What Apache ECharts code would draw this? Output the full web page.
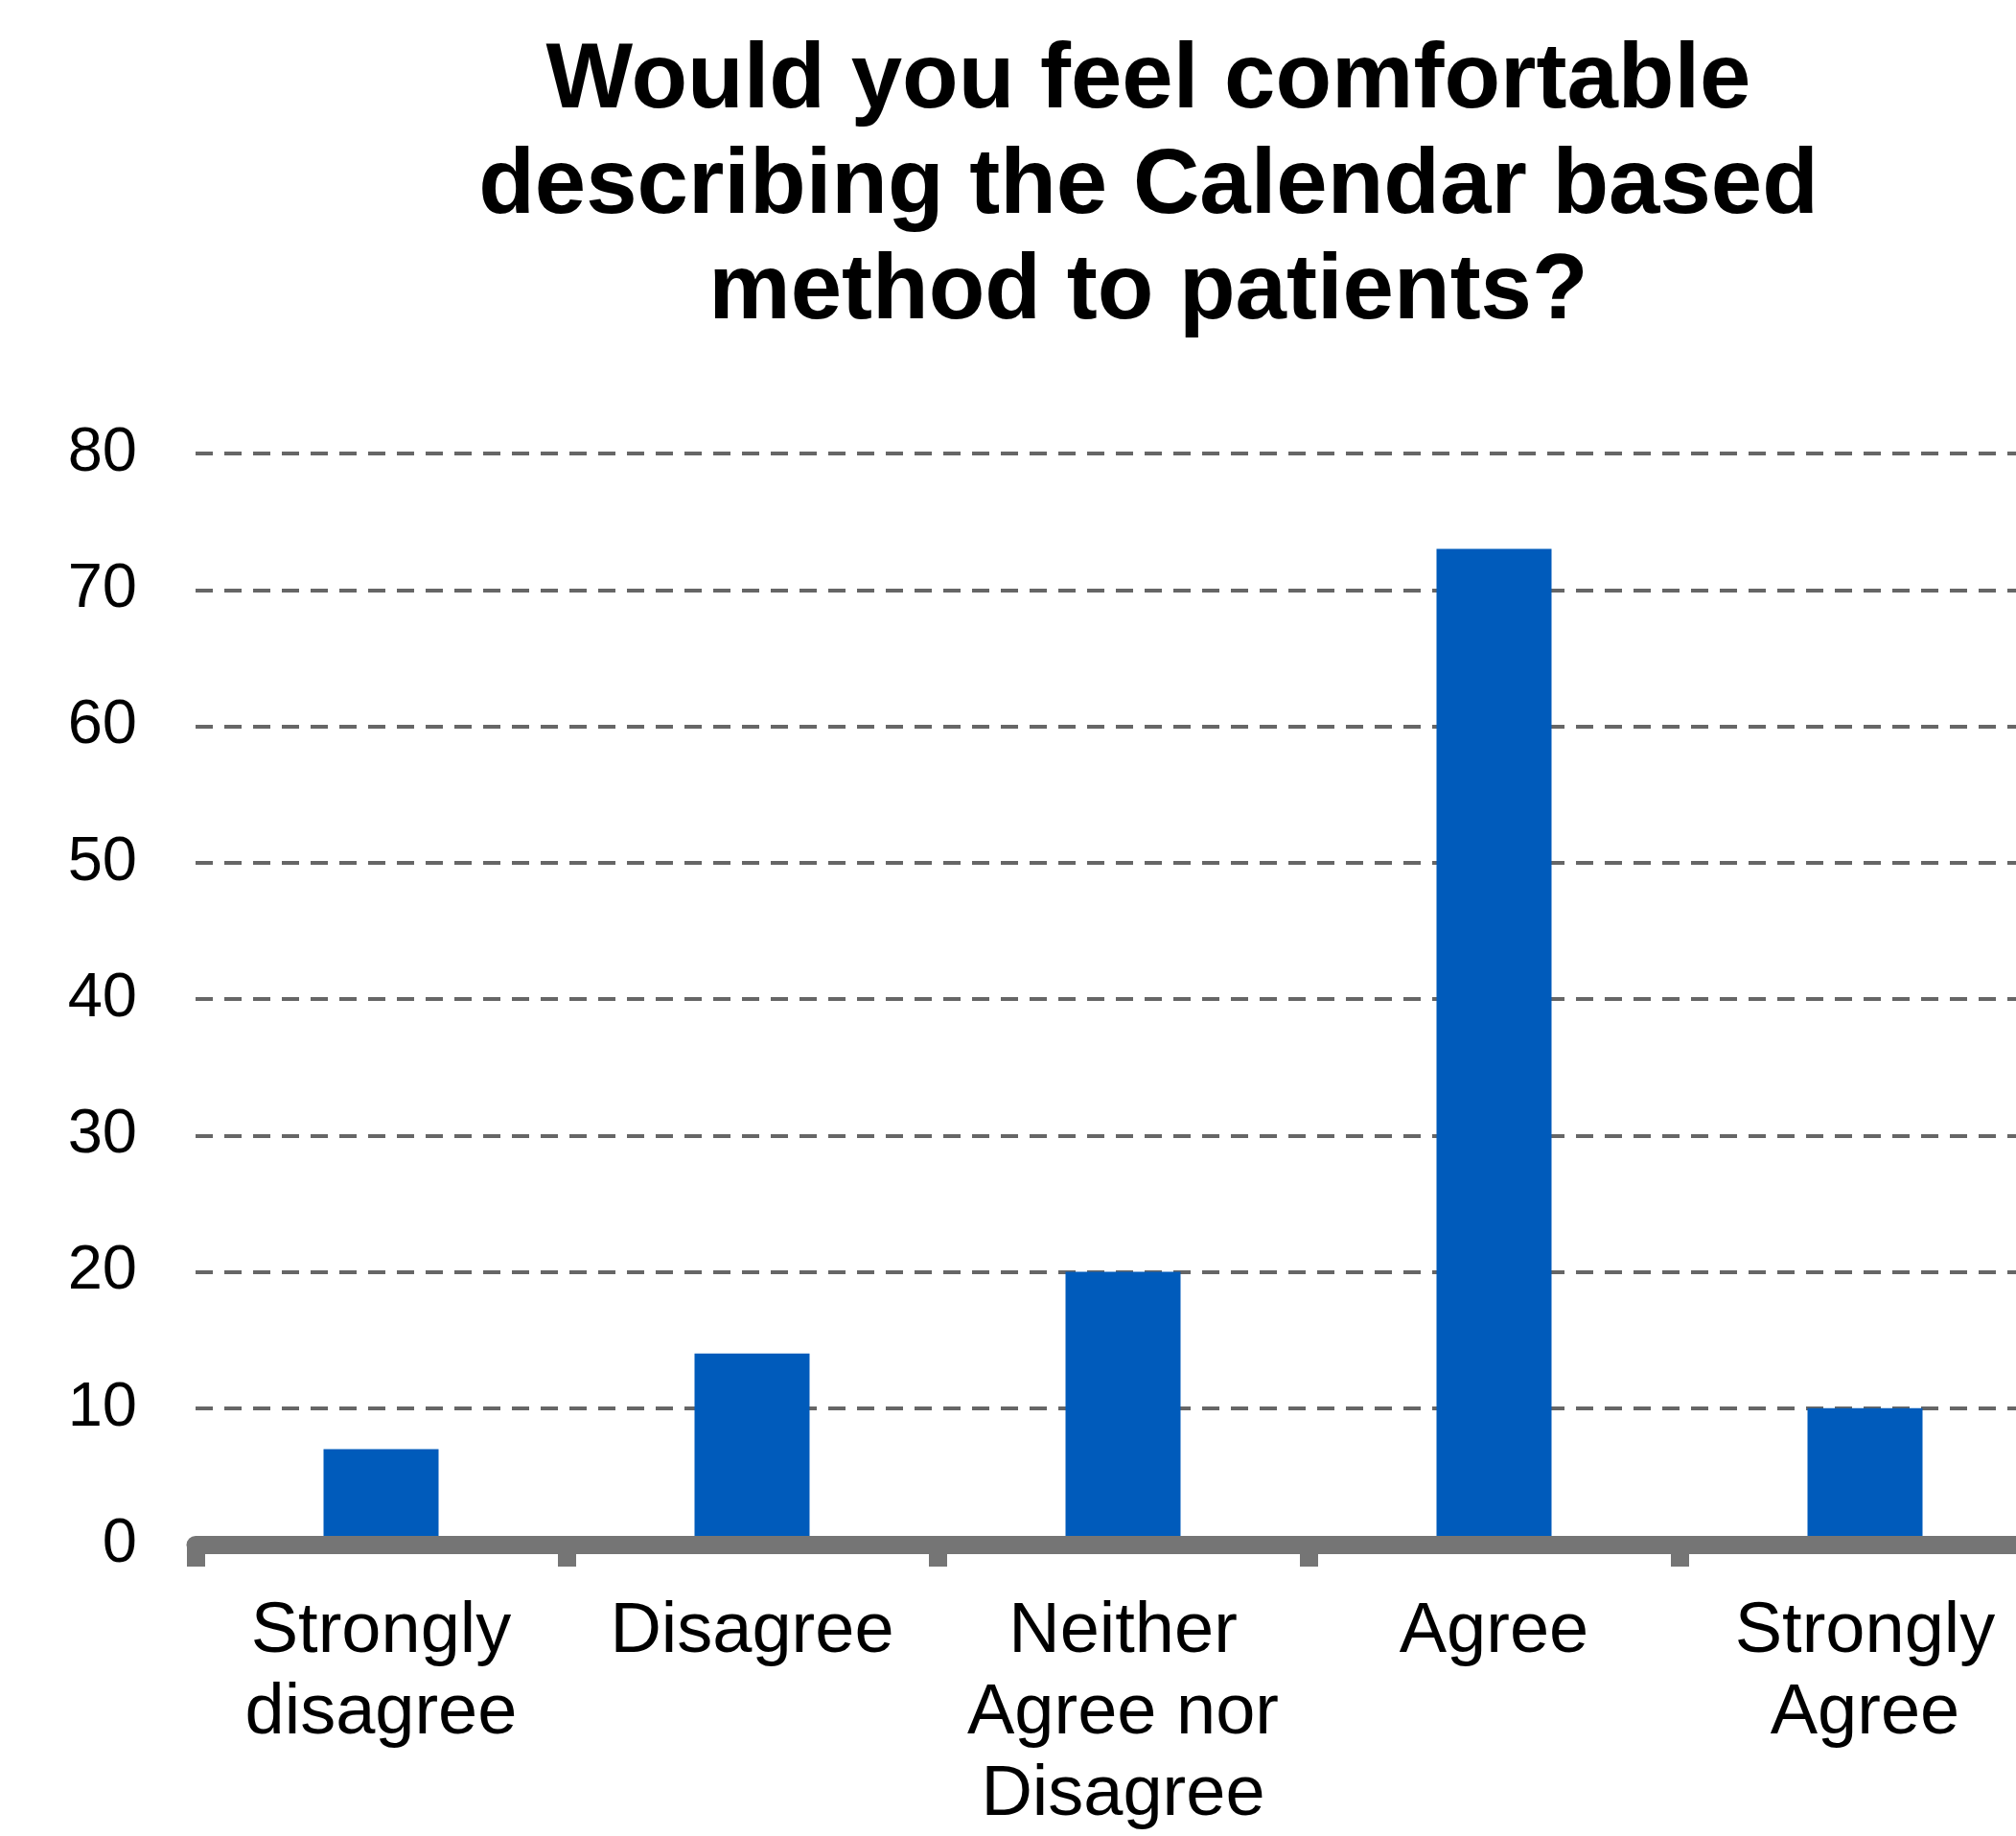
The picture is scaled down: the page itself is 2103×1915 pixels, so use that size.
<!DOCTYPE html>
<html>
<head>
<meta charset="utf-8">
<script src="https://cdn.jsdelivr.net/npm/echarts@6/dist/echarts.min.js"></script>
<style>
  html, body { margin: 0; padding: 0; background: #fff; }
  #chart { width: 2103px; height: 1915px; }
</style>
</head>
<body>
<div id="chart"></div>
<script>
// survey answers
const categories = ['Strongly\ndisagree', 'Disagree', 'Neither\nAgree nor\nDisagree', 'Agree', 'Strongly\nAgree'];
const counts = [7, 14, 20, 73, 10];
const yMin = 0, yMax = 80, yStep = 10;

const chart = echarts.init(document.getElementById('chart'));
const font = 'Liberation Sans, Arial, Helvetica, sans-serif';

chart.setOption({
  animation: false,
  backgroundColor: '#ffffff',
  title: {
    text: 'Would you feel comfortable\ndescribing the Calendar based\nmethod to patients?',
    left: 1193,
    top: 26,
    textAlign: 'center',
    textStyle: {
      fontFamily: font,
      fontWeight: 'bold',
      fontSize: 96,
      lineHeight: 110,
      color: '#000'
    }
  },
  grid: { left: 204, right: -36, top: 473, bottom: 304, containLabel: false, outerBoundsMode: 'none' },
  xAxis: {
    type: 'category',
    data: categories,
    z: 5,
    axisLine: { lineStyle: { color: '#757575', width: 19 } },
    axisTick: { show: true, length: 23, lineStyle: { color: '#757575', width: 19 } },
    axisLabel: {
      margin: 49,
      fontFamily: font,
      fontSize: 74,
      lineHeight: 85,
      color: '#000',
      interval: 0
    }
  },
  yAxis: {
    type: 'value',
    min: yMin,
    max: yMax,
    interval: yStep,
    axisLine: { show: false },
    axisTick: { show: false },
    axisLabel: { margin: 61, fontFamily: font, fontSize: 65, color: '#000' },
    splitLine: { lineStyle: { color: '#666666', width: 4, type: [18, 12] } }
  },
  series: [{
    type: 'bar',
    data: counts,
    barWidth: 120,
    itemStyle: { color: '#005bbb' }
  }]
});
</script>
</body>
</html>
